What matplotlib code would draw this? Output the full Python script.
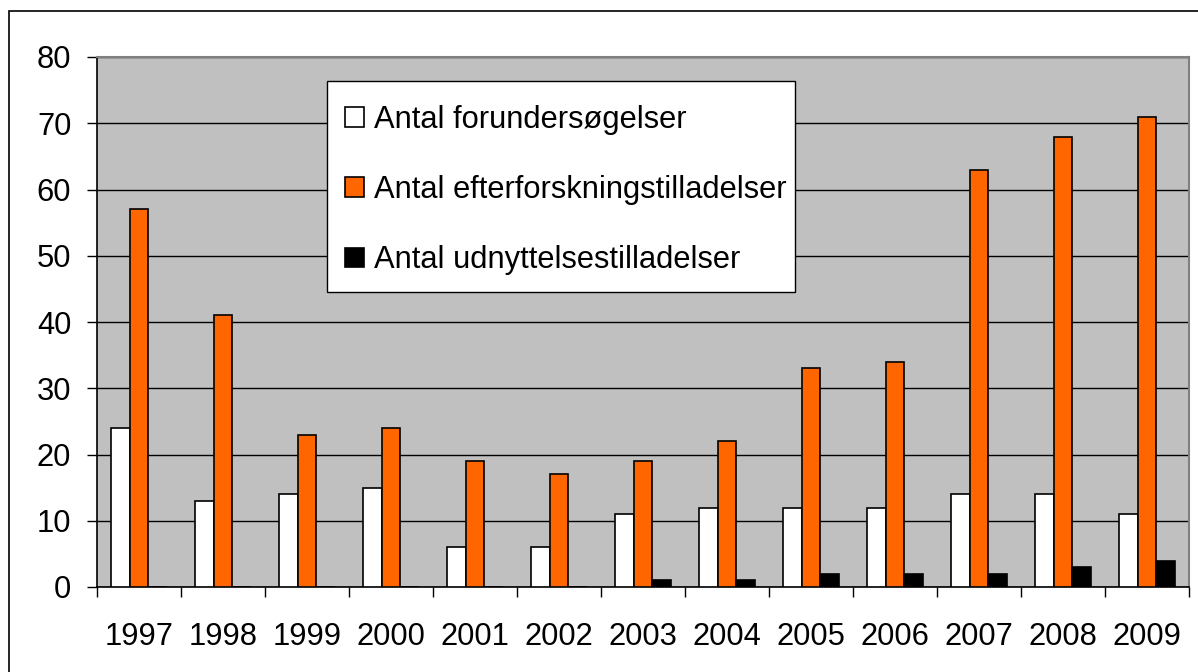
import numpy as np
import matplotlib.pyplot as plt
from matplotlib.patches import Rectangle

plt.rcParams['font.family'] = ['Liberation Sans', 'DejaVu Sans']

years = ["1997", "1998", "1999", "2000", "2001", "2002", "2003",
         "2004", "2005", "2006", "2007", "2008", "2009"]
forundersoegelser = [24, 13, 14, 15, 6, 6, 11, 12, 12, 12, 14, 14, 11]
efterforskning = [57, 41, 23, 24, 19, 17, 19, 22, 33, 34, 63, 68, 71]
udnyttelse = [0, 0, 0, 0, 0, 0, 1, 1, 2, 2, 2, 3, 4]

labels = ["Antal forundersøgelser",
          "Antal efterforskningstilladelser",
          "Antal udnyttelsestilladelser"]
colors = ["white", "#FF6600", "black"]

W, H = 1198, 672
fs = 22.2
fig = plt.figure(figsize=(W / 100, H / 100), dpi=100)
ax = fig.add_axes([97 / W, 1 - 587 / H, (1189 - 97) / W, (587 - 57) / H])

# outer chart frame
fig.patches.append(Rectangle((9 / W, -0.1), 1.2, 1 - 11 / H + 0.1,
                             transform=fig.transFigure, fill=False,
                             edgecolor="black", linewidth=1.2))

x = np.arange(len(years))
bw = 0.226
series = [forundersoegelser, efterforskning, udnyttelse]
for i, (vals, c, lab) in enumerate(zip(series, colors, labels)):
    ax.bar(x + (i - 1) * bw, vals, width=bw, color=c, edgecolor="black",
           linewidth=1.2, label=lab, zorder=3)

ax.set_facecolor("#C0C0C0")
ax.set_xlim(-0.5, len(years) - 0.5)
ax.set_ylim(0, 80)
ax.set_yticks(np.arange(0, 81, 10))
ax.yaxis.grid(True, color="black", linewidth=1, zorder=1)
ax.set_axisbelow(True)

ax.set_xticks(x)
ax.set_xticklabels(years)
ax.set_xticks(np.arange(-0.5, len(years), 1), minor=True)
ax.tick_params(axis="x", which="major", length=0, pad=25, labelsize=fs)
ax.tick_params(axis="x", which="minor", length=7.5, width=1, direction="out")
ax.tick_params(axis="y", length=7.5, width=1, pad=11, labelsize=fs)

for s in ["top", "right"]:
    ax.spines[s].set_color("#808080")
    ax.spines[s].set_linewidth(1.5)
for s in ["left", "bottom"]:
    ax.spines[s].set_color("black")
    ax.spines[s].set_linewidth(1.2)

# legend box drawn separately so it can be sized like the original
ax.add_patch(Rectangle((327 / W, 1 - 292 / H), (795 - 327) / W, (292 - 81) / H,
                       transform=fig.transFigure, facecolor="white",
                       edgecolor="black", linewidth=1, zorder=4,
                       clip_on=False))
leg = ax.legend(loc="upper left", bbox_to_anchor=(345 / W, 1 - 105 / H),
                bbox_transform=fig.transFigure, fontsize=fs,
                frameon=False, handlelength=0.6, handleheight=0.6,
                handletextpad=0.35, labelspacing=1.3, borderpad=0,
                borderaxespad=0)
leg.set_zorder(5)

fig.savefig("out.png", dpi=100)
